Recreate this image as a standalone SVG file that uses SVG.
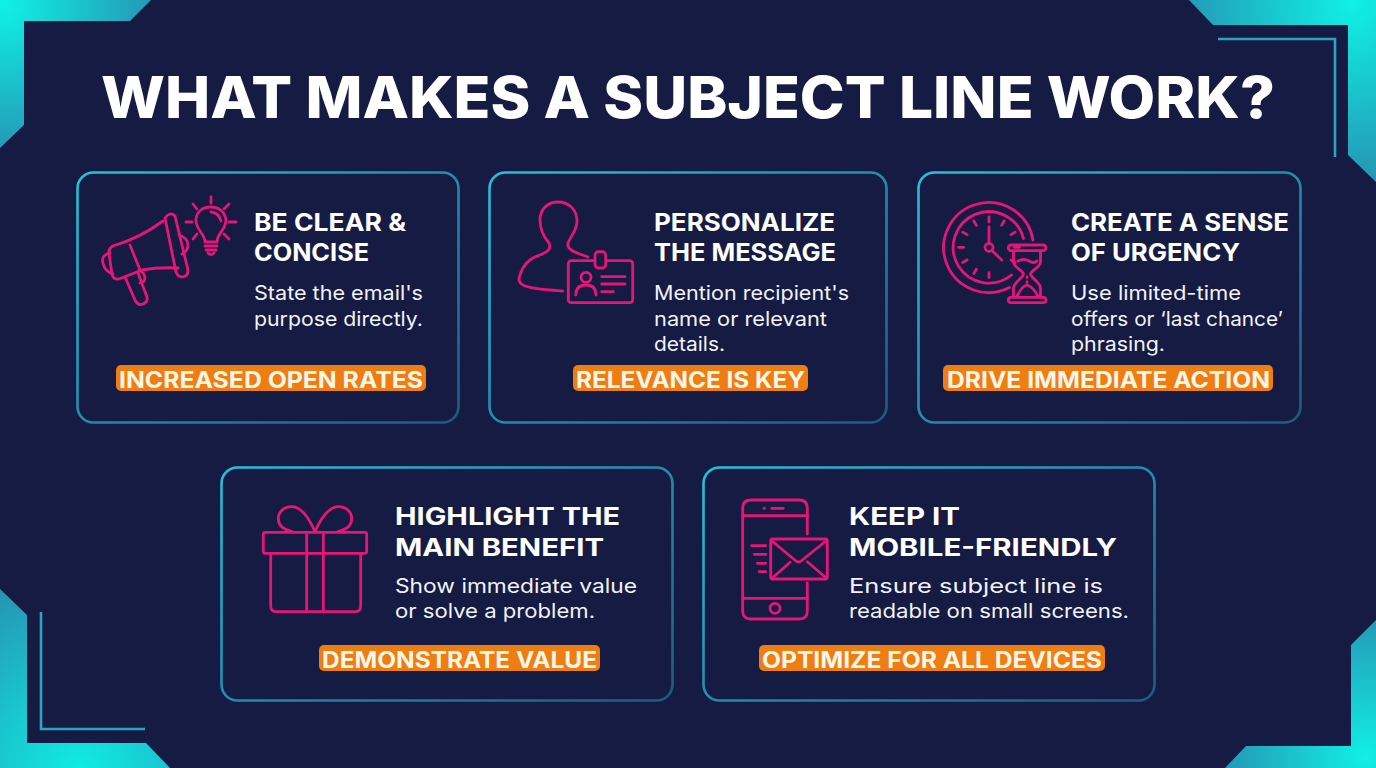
<svg xmlns="http://www.w3.org/2000/svg" width="1376" height="768" viewBox="0 0 1376 768">
<style>
text{font-family:Inter,"Liberation Sans",sans-serif;fill:#fff}
.t{font-size:58px;font-weight:800}
.h{font-size:24px;font-weight:700}
.b{font-size:20px;font-weight:400;fill:#f2f3f8}
.o{font-size:23px;font-weight:700;fill:#fff6e8}
.card{fill:#151b42;stroke:url(#cs);stroke-width:2.6}
.badge{fill:#ee7d12}
.i{fill:none;stroke:#e6157a;stroke-width:2.8;stroke-linecap:round;stroke-linejoin:round}
.fr{fill:none;stroke:#2da3bf;stroke-width:2.6}
</style>
<defs>
<linearGradient id="cs" x1="0" y1="0" x2="1" y2="1"><stop offset="0" stop-color="#27c0d8"/><stop offset="1" stop-color="#1f5a80"/></linearGradient>
<radialGradient id="gtl" gradientUnits="userSpaceOnUse" cx="5" cy="5" r="150"><stop offset="0" stop-color="#10f0e6"/><stop offset="1" stop-color="#2596b4"/></radialGradient>
<radialGradient id="gtr" gradientUnits="userSpaceOnUse" cx="1352" cy="5" r="175"><stop offset="0" stop-color="#10f0e6"/><stop offset="1" stop-color="#2596b4"/></radialGradient>
<radialGradient id="gbl" gradientUnits="userSpaceOnUse" cx="80" cy="768" r="190"><stop offset="0" stop-color="#10ece4"/><stop offset="1" stop-color="#2596b4"/></radialGradient>
<radialGradient id="gbr" gradientUnits="userSpaceOnUse" cx="1366" cy="758" r="145"><stop offset="0" stop-color="#10f0e6"/><stop offset="1" stop-color="#2596b4"/></radialGradient>
</defs>
<rect width="1376" height="768" fill="#151b42"/>
<g id="frame">
<polygon fill="url(#gtl)" points="0,0 151,0 130,21 24,21 24,125 0,148"/>
<polygon fill="url(#gtr)" points="1189,0 1213,25 1348,25 1348,155 1376,182 1376,0"/>
<polygon fill="url(#gbl)" points="0,589 27,615 27,743 146,743 170,768 0,768"/>
<polygon fill="url(#gbr)" points="1376,620 1351,645 1351,746 1246,746 1225,768 1376,768"/>
<path class="fr" d="M1218,39H1335V157"/>
<path class="fr" d="M41,612V729H145"/>
</g>
<text id="title" class="t" x="101" y="118" textLength="1174" lengthAdjust="spacingAndGlyphs">WHAT MAKES A SUBJECT LINE WORK?</text>

<g id="card1">
<rect class="card" x="77.5" y="172.5" width="381" height="250" rx="16"/>
<g class="i">
<path d="M165,218Q170,211 175,216L188,270Q188,277 182,277Q178,277 176,272Z"/>
<path d="M163,221Q140,238 113,246Q108,249 109,254L112,274Q113,280 119,279L142,270Q158,267 178,268"/>
<path d="M130,245L140,270"/>
<path d="M110,253Q101,255 103,263Q105,272 113,274"/>
<path d="M125,277L135,300Q138,306 143,304Q148,302 147,297L138,273"/>
<path d="M139,270Q145,273 145,278Q145,282 140,283"/>
<path d="M179,235Q188,238 188,245Q188,251 182,254"/>
<path d="M205,242C205,233 195,230 196,219C197,211 203,207 211,207C219,207 225,212 226,220C226,230 217,233 217,242Z"/>
<path d="M205,246H217M206,250H216M208,253Q211,256 214,253"/>
<path d="M211,212Q219,213 221,221"/>
<path d="M211,197V203M193,204L197,209M229,204L224,209M186,222H192M229,222H236M193,239L197,234M229,239L224,234"/>
</g>
<text class="h" x="254" y="230.5" textLength="152" lengthAdjust="spacingAndGlyphs">BE CLEAR &amp;</text>
<text class="h" x="254" y="260.5" textLength="115" lengthAdjust="spacingAndGlyphs">CONCISE</text>
<text class="b" x="254" y="300" textLength="169" lengthAdjust="spacingAndGlyphs">State the email's</text>
<text class="b" x="254" y="325.5" textLength="169" lengthAdjust="spacingAndGlyphs">purpose directly.</text>
<rect class="badge" x="116" y="365" width="310" height="26" rx="5"/>
<text class="o" x="119" y="387.5" textLength="304" lengthAdjust="spacingAndGlyphs">INCREASED OPEN RATES</text>
</g>

<g id="card2">
<rect class="card" x="489.5" y="172.5" width="397" height="250" rx="16"/>
<g class="i">
<path d="M562.7,291C548,290 530,289 523,285Q517,282 520,275C523,265 530,258 540,255C547,252 552,249 549,243C543,236 540,229 540,220C540,209 548,202 558,202C569,202 577,210 577,221C577,231 570,237 568,243C566,250 577,253 588,257"/>
<rect x="568.3" y="260.7" width="64.4" height="42" rx="3"/>
<rect x="595" y="251.7" width="10.7" height="16.3" rx="3.5" fill="#151b42"/>
<circle cx="586" cy="277.3" r="5"/>
<path d="M575.7,295Q576,285 586,285Q596,285 596,295"/>
<path d="M601.7,276.7H625M601.7,284H625M601.7,291.7H613.3"/>
</g>
<text class="h" x="654" y="230.5" textLength="181" lengthAdjust="spacingAndGlyphs">PERSONALIZE</text>
<text class="h" x="654" y="260.5" textLength="182" lengthAdjust="spacingAndGlyphs">THE MESSAGE</text>
<text class="b" x="654" y="300" textLength="195" lengthAdjust="spacingAndGlyphs">Mention recipient's</text>
<text class="b" x="654" y="325.5" textLength="173" lengthAdjust="spacingAndGlyphs">name or relevant</text>
<text class="b" x="654" y="351" textLength="71" lengthAdjust="spacingAndGlyphs">details.</text>
<rect class="badge" x="573" y="365" width="235" height="26" rx="5"/>
<text class="o" x="576" y="387.5" textLength="229" lengthAdjust="spacingAndGlyphs">RELEVANCE IS KEY</text>
</g>

<g id="card3">
<rect class="card" x="918.5" y="172.5" width="382" height="250" rx="16"/>
<g class="i">
<path d="M1033,240A45,45 0 1 0 1009.4,287.5"/>
<path d="M1023.5,238.6A35.7,35.7 0 1 0 1011.5,275"/>
<g id="ticks">
<path d="M989,217V222"/>
<path d="M989,217V222" transform="rotate(30 989 247.3)"/>
<path d="M989,217V222" transform="rotate(60 989 247.3)"/>
<path d="M989,217V222" transform="rotate(90 989 247.3)"/>
<path d="M989,217V222" transform="rotate(120 989 247.3)"/>
<path d="M989,217V222" transform="rotate(180 989 247.3)"/>
<path d="M989,217V222" transform="rotate(210 989 247.3)"/>
<path d="M989,217V222" transform="rotate(240 989 247.3)"/>
<path d="M989,217V222" transform="rotate(270 989 247.3)"/>
<path d="M989,217V222" transform="rotate(300 989 247.3)"/>
<path d="M989,217V222" transform="rotate(330 989 247.3)"/>
</g>
<circle cx="989" cy="247.3" r="4"/>
<path d="M989,243V227M992,250.5L1001.7,260"/>
<rect x="1008.3" y="245" width="37.7" height="5.7" rx="2.8"/>
<rect x="1008.3" y="297.3" width="37.7" height="5.4" rx="2.7"/>
<path d="M1013.5,251V262C1014,268 1023,270 1023.5,274C1023,278 1014,282 1013.5,288V297M1040.5,251V262C1040,268 1031,270 1030.5,274C1031,278 1040,282 1040.5,288V297"/>
<path d="M1018,261Q1024,258 1029,261T1037,261"/>
<path d="M1017,296Q1022,286 1027,285Q1033,287 1038,296"/>
<path d="M1027,277V277.5M1027,282V282.5"/>
</g>
<text class="h" x="1071" y="230.5" textLength="218" lengthAdjust="spacingAndGlyphs">CREATE A SENSE</text>
<text class="h" x="1071" y="260.5" textLength="169" lengthAdjust="spacingAndGlyphs">OF URGENCY</text>
<text class="b" x="1071" y="300" textLength="170" lengthAdjust="spacingAndGlyphs">Use limited-time</text>
<text class="b" x="1071" y="325.5" textLength="212" lengthAdjust="spacingAndGlyphs">offers or ‘last chance’</text>
<text class="b" x="1071" y="351" textLength="94" lengthAdjust="spacingAndGlyphs">phrasing.</text>
<rect class="badge" x="943" y="365" width="330" height="26" rx="5"/>
<text class="o" x="947" y="387.5" textLength="323" lengthAdjust="spacingAndGlyphs">DRIVE IMMEDIATE ACTION</text>
</g>

<g id="card4">
<rect class="card" x="221.5" y="467.5" width="451" height="233" rx="16"/>
<g class="i">
<rect x="263.3" y="532.3" width="103.4" height="21" rx="2"/>
<path d="M270.7,553.3V606Q270.7,611.7 276.5,611.7H355Q360.7,611.7 360.7,606V553.3"/>
<path d="M306.7,532.3V611.7M323.3,532.3V611.7"/>
<path d="M315,531.7C309,518 302,507 292,506.7C284,506.5 278.3,512 278.3,518.5C278.3,526 285,530 292,531.7"/>
<path d="M315,531.7C321,518 328,507 338.3,506.7C346,506.5 351.7,512 351.7,518.5C351.7,526 345,530 338,531.7"/>
</g>
<text class="h" x="395" y="525" textLength="225" lengthAdjust="spacingAndGlyphs">HIGHLIGHT THE</text>
<text class="h" x="395" y="555.5" textLength="209" lengthAdjust="spacingAndGlyphs">MAIN BENEFIT</text>
<text class="b" x="395" y="592.5" textLength="242" lengthAdjust="spacingAndGlyphs">Show immediate value</text>
<text class="b" x="395" y="618" textLength="200" lengthAdjust="spacingAndGlyphs">or solve a problem.</text>
<rect class="badge" x="319" y="645" width="281" height="26" rx="5"/>
<text class="o" x="322" y="667.5" textLength="275" lengthAdjust="spacingAndGlyphs">DEMONSTRATE VALUE</text>
</g>

<g id="card5">
<rect class="card" x="703.5" y="467.5" width="451" height="233" rx="16"/>
<g class="i">
<path d="M807.3,534V508Q807.3,500 799,500H751Q742.7,500 742.7,508V611Q742.7,619 751,619H799Q807.3,619 807.3,611V583"/>
<path d="M742.7,515.7H807.3M742.7,598.3H807.3"/>
<path d="M764,508.3H764.5M771.7,508.3H783.3"/>
<circle cx="775" cy="608.3" r="5"/>
<rect x="770.7" y="539" width="56.6" height="40" rx="2"/>
<path d="M772,541L796,561Q798.5,563 801,561L826,541"/>
<path d="M772.7,577.7L790,562.3M807.3,561.7L826,577.7"/>
<path d="M751.7,545.7H765.7M754.3,554.3H765.7M757.3,563.3H765.7M759.3,571.7H765.7"/>
</g>
<text class="h" x="849" y="525" textLength="111" lengthAdjust="spacingAndGlyphs">KEEP IT</text>
<text class="h" x="849" y="555.5" textLength="268" lengthAdjust="spacingAndGlyphs">MOBILE-FRIENDLY</text>
<text class="b" x="849" y="592.5" textLength="254" lengthAdjust="spacingAndGlyphs">Ensure subject line is</text>
<text class="b" x="849" y="618" textLength="280" lengthAdjust="spacingAndGlyphs">readable on small screens.</text>
<rect class="badge" x="759" y="645" width="346" height="26" rx="5"/>
<text class="o" x="762" y="667.5" textLength="340" lengthAdjust="spacingAndGlyphs">OPTIMIZE FOR ALL DEVICES</text>
</g>
</svg>
